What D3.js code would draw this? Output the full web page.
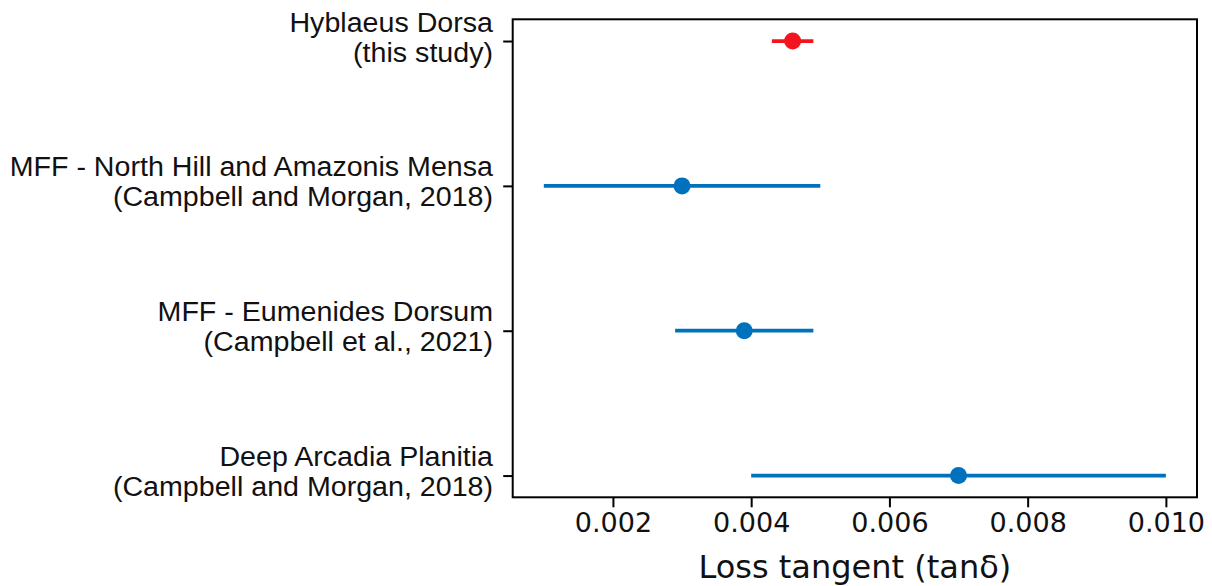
<!DOCTYPE html>
<html>
<head>
<meta charset="utf-8">
<script src="https://cdn.jsdelivr.net/npm/d3@7"></script>
<style>
  html, body { margin: 0; padding: 0; background: #fff; }
  svg { display: block; }
</style>
</head>
<body>
<svg id="chart" width="1212" height="586"></svg>
<script>
// ---- data ----
const labelLine1 = ["Hyblaeus Dorsa", "MFF - North Hill and Amazonis Mensa", "MFF - Eumenides Dorsum", "Deep Arcadia Planitia"];
const labelLine2 = ["(this study)", "(Campbell and Morgan, 2018)", "(Campbell et al., 2021)", "(Campbell and Morgan, 2018)"];
const values = [0.0046, 0.003, 0.0039, 0.007];
const errors = [0.0003, 0.002, 0.001, 0.003];
const colors = ["#f4141f", "#0072bd", "#0072bd", "#0072bd"];
const xTicks = [0.002, 0.004, 0.006, 0.008, 0.010];
const xLabel = "Loss tangent (tanδ)";

// ---- layout ----
const svg = d3.select("#chart");
const L = 512.7, R = 1197, T = 19.3, B = 497.3;

const x = d3.scaleLinear().domain([0.00055, 0.01045]).range([L, R]);
const y = d3.scaleLinear().domain([-0.15, 3.15]).range([T, B]);

const idx = d3.range(values.length);

// error bars
svg.append("g").selectAll("line").data(idx).join("line")
  .attr("x1", i => x(values[i] - errors[i]))
  .attr("x2", i => x(values[i] + errors[i]))
  .attr("y1", i => y(i)).attr("y2", i => y(i))
  .attr("stroke", i => colors[i]).attr("stroke-width", 3.8);

// points
svg.append("g").selectAll("circle").data(idx).join("circle")
  .attr("cx", i => x(values[i])).attr("cy", i => y(i))
  .attr("r", 8.5).attr("fill", i => colors[i]);

// x axis
const xAxis = svg.append("g").attr("transform", `translate(0,${B})`)
  .call(d3.axisBottom(x).tickValues(xTicks).tickFormat(d3.format(".3f")).tickSizeOuter(0).tickSize(10).tickPadding(6));
xAxis.select(".domain").remove();
xAxis.selectAll(".tick line").attr("stroke", "#000").attr("stroke-width", 2);
xAxis.selectAll(".tick text").attr("font-family", "DejaVu Sans").attr("font-size", 27).attr("fill", "#111");

// y axis ticks
const yAxis = svg.append("g").attr("transform", `translate(${L},0)`)
  .call(d3.axisLeft(y).tickValues(idx).tickFormat("").tickSizeOuter(0).tickSize(9.5));
yAxis.select(".domain").remove();
yAxis.selectAll(".tick line").attr("stroke", "#000").attr("stroke-width", 2);

// y labels
const lab = svg.append("g").attr("transform", "translate(493,0) scale(1.06,1)")
  .attr("font-family", "Liberation Sans, Arial, sans-serif")
  .attr("font-size", 27).attr("fill", "#111").attr("text-anchor", "end");
idx.forEach(i => {
  const t = lab.append("text").attr("x", 0).attr("y", y(i));
  t.append("tspan").attr("x", 0).attr("dy", -9.5).text(labelLine1[i]);
  t.append("tspan").attr("x", 0).attr("dy", 30).text(labelLine2[i]);
});

// frame
svg.append("rect").attr("x", L).attr("y", T).attr("width", R - L).attr("height", B - T)
  .attr("fill", "none").attr("stroke", "#000").attr("stroke-width", 2);

// x label
svg.append("text").attr("x", (L + R) / 2).attr("y", 578)
  .attr("text-anchor", "middle").attr("font-family", "DejaVu Sans").attr("font-size", 32)
  .attr("fill", "#111").text(xLabel);
</script>
</body>
</html>
